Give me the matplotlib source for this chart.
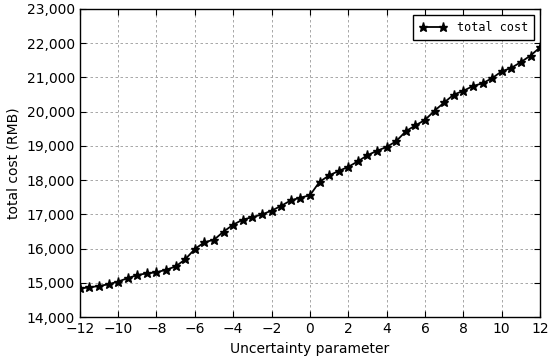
import numpy as np
import matplotlib
matplotlib.use("Agg")
import matplotlib.pyplot as plt
from matplotlib.ticker import FuncFormatter, MultipleLocator

# uncertainty parameter and total cost
param = np.arange(-12, 12.01, 0.5)
cost = [14840, 14870, 14910, 14960, 15040, 15140, 15230, 15280, 15310, 15385,
        15480, 15690, 15990, 16190, 16260, 16500, 16700, 16850, 16920, 17000,
        17110, 17250, 17410, 17490, 17560, 17950, 18140, 18270, 18390, 18550,
        18730, 18860, 18970, 19140, 19430, 19600, 19760, 20030, 20270, 20500,
        20610, 20750, 20830, 20980, 21180, 21280, 21450, 21640, 21880]

plt.rcParams['font.family'] = ['DejaVu Sans']
fig = plt.figure(figsize=(5.5, 3.6), dpi=100)
ax = fig.add_axes([0.145, 0.119, 0.837, 0.856])

ax.plot(param, cost, color='k', lw=1.3, marker='*', ms=6.5, label='total cost')

ax.set_xlim(-12, 12)
ax.set_ylim(14000, 23000)
ax.xaxis.set_major_locator(MultipleLocator(2))
ax.yaxis.set_major_locator(MultipleLocator(1000))
ax.yaxis.set_major_formatter(FuncFormatter(lambda v, p: '{:,.0f}'.format(v)))
ax.tick_params(direction='in', top=True, right=True, length=4, labelsize=10)
ax.grid(True, color='#999999', linestyle=(0, (3, 3)), linewidth=0.6)
for s in ax.spines.values():
    s.set_linewidth(1.0)

ax.set_xlabel('Uncertainty parameter', fontsize=10)
ax.set_ylabel('total cost (RMB)', fontsize=10)

leg = ax.legend(loc='upper right', prop={'family': 'DejaVu Sans Mono', 'size': 8.5},
                fancybox=False, framealpha=1, edgecolor='k', numpoints=2,
                handlelength=2.3, handletextpad=0.9, borderpad=0.5,
                borderaxespad=0.5)
leg.get_frame().set_linewidth(1.0)

fig.savefig('out.png', dpi=100)
